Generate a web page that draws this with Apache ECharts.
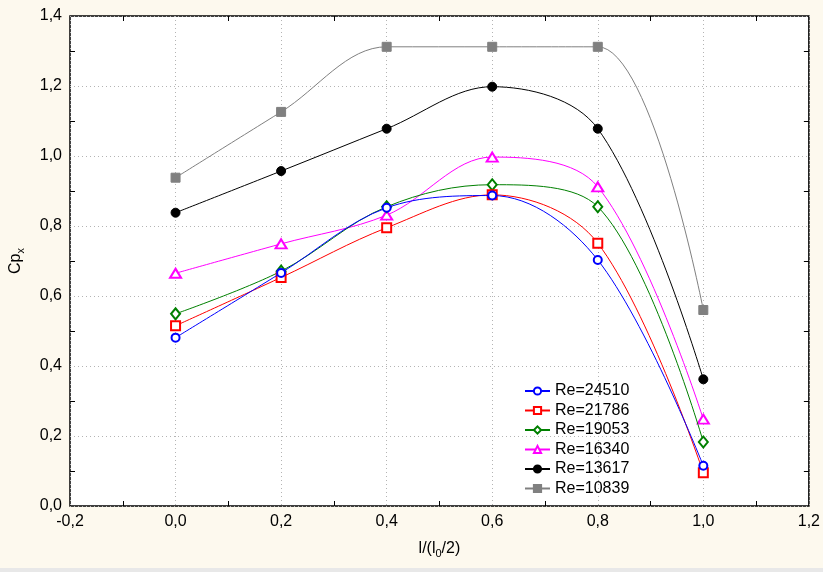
<!DOCTYPE html>
<html>
<head>
<meta charset="utf-8">
<script src="https://cdn.jsdelivr.net/npm/echarts@6/dist/echarts.min.js"></script>
<style>
html,body{margin:0;padding:0;background:#fdf9ee;}
#chart{width:823px;height:572px;}
</style>
</head>
<body>
<div id="chart"></div>
<script>
const xValues = [0.0, 0.2, 0.4, 0.6, 0.8, 1.0];
const seriesNames = ['Re=24510', 'Re=21786', 'Re=19053', 'Re=16340', 'Re=13617', 'Re=10839'];
const re24510 = [0.481, 0.666, 0.852, 0.887, 0.703, 0.115];
const re21786 = [0.515, 0.653, 0.795, 0.889, 0.751, 0.095];
const re19053 = [0.549, 0.671, 0.855, 0.918, 0.855, 0.183];
const re16340 = [0.665, 0.749, 0.831, 0.997, 0.912, 0.248];
const re13617 = [0.838, 0.957, 1.078, 1.198, 1.078, 0.362];
const re10839 = [0.938, 1.126, 1.312, 1.312, 1.312, 0.560];
const xTicks = [-0.2, 0.0, 0.2, 0.4, 0.6, 0.8, 1.0, 1.2];
const yTicks = [0.0, 0.2, 0.4, 0.6, 0.8, 1.0, 1.2, 1.4];

const allValues = [re24510, re21786, re19053, re16340, re13617, re10839];
const colors = ['#0000ff', '#ff0000', '#008000', '#ff00ff', '#000000', '#808080'];
const symbols = ['emptyCircle', 'emptyRect', 'emptyDiamond', 'emptyTriangle', 'circle', 'rect'];
const symbolSizes = [8, 9, [9, 11], [11, 9], 9, 9];

const FONT = 'Liberation Sans, Arial, sans-serif';
const fmt = v => Number(v).toFixed(1).replace('.', ',');

const series = allValues.map((vals, i) => ({
  name: seriesNames[i],
  type: 'line',
  xAxisIndex: 0,
  yAxisIndex: 0,
  data: xValues.map((x, j) => [x, vals[j]]),
  smooth: 0.35,
  symbol: symbols[i],
  symbolSize: symbolSizes[i],
  showAllSymbol: true,
  lineStyle: { color: colors[i], width: 1 },
  itemStyle: { color: colors[i], borderColor: colors[i], borderWidth: 1 },
  emphasis: { disabled: true },
  z: 10 - i
}));

const baseX = {
  type: 'value', min: xTicks[0], max: xTicks[xTicks.length - 1], interval: 0.2,
  axisLine: { show: false, onZero: false },
  axisTick: { show: false, inside: true },
  minorTick: { show: true, splitNumber: 2, length: 5, lineStyle: { color: '#000', width: 1 } },
  minorSplitLine: { show: false }
};
const baseY = {
  type: 'value', min: yTicks[0], max: yTicks[yTicks.length - 1], interval: 0.2,
  axisLine: { show: false, onZero: false },
  axisTick: { show: false, inside: true },
  minorTick: { show: true, splitNumber: 2, length: 5, lineStyle: { color: '#000', width: 1 } },
  minorSplitLine: { show: false }
};

const option = {
  backgroundColor: '#fdf9ee',
  animation: false,
  grid: {
    left: 67, right: 14, top: 16, bottom: 66,
    show: true, backgroundColor: '#ffffff', borderColor: '#000', borderWidth: 1.5
  },
  legend: {
    orient: 'vertical',
    left: 519, top: 378,
    itemWidth: 25, itemHeight: 9, itemGap: 3.5,
    textStyle: { fontFamily: FONT, fontSize: 16, color: '#000' },
    data: seriesNames
  },
  xAxis: [
    Object.assign({}, baseX, {
      position: 'bottom',
      name: '{a|l/(l}{b|0}{a|/2)}',
      nameLocation: 'middle', nameGap: 33,
      nameTextStyle: {
        rich: {
          a: { fontFamily: FONT, fontSize: 16, color: '#000', lineHeight: 20 },
          b: { fontFamily: FONT, fontSize: 11, color: '#000', lineHeight: 20, verticalAlign: 'bottom', padding: [6, 0, 0, 0] }
        }
      },
      axisLabel: { formatter: fmt, fontFamily: FONT, fontSize: 16, color: '#000', margin: 8 },
      splitLine: { show: true, lineStyle: { color: '#b4b4b4', type: [1, 3], width: 1 } }
    }),
    Object.assign({}, baseX, {
      position: 'top',
      axisLabel: { show: false },
      splitLine: { show: false }
    })
  ],
  yAxis: [
    Object.assign({}, baseY, {
      position: 'left',
      name: '{a|Cp}{b|x}',
      nameLocation: 'middle', nameGap: 44, nameRotate: 90,
      nameTextStyle: {
        rich: {
          a: { fontFamily: FONT, fontSize: 16, color: '#000', lineHeight: 20 },
          b: { fontFamily: FONT, fontSize: 11, color: '#000', lineHeight: 20, verticalAlign: 'bottom', padding: [6, 0, 0, 0] }
        }
      },
      axisLabel: { formatter: fmt, fontFamily: FONT, fontSize: 16, color: '#000', margin: 8 },
      splitLine: { show: true, lineStyle: { color: '#b4b4b4', type: [1, 3], width: 1 } }
    }),
    Object.assign({}, baseY, {
      position: 'right',
      axisLabel: { show: false },
      splitLine: { show: false }
    })
  ],
  graphic: [{
    type: 'rect', left: 0, top: 568, shape: { width: 823, height: 4 },
    style: { fill: '#e8e8e8' }, silent: true
  }],
  series: series
};

const chart = echarts.init(document.getElementById('chart'), null, { renderer: 'canvas' });
chart.setOption(option);
</script>
</body>
</html>
